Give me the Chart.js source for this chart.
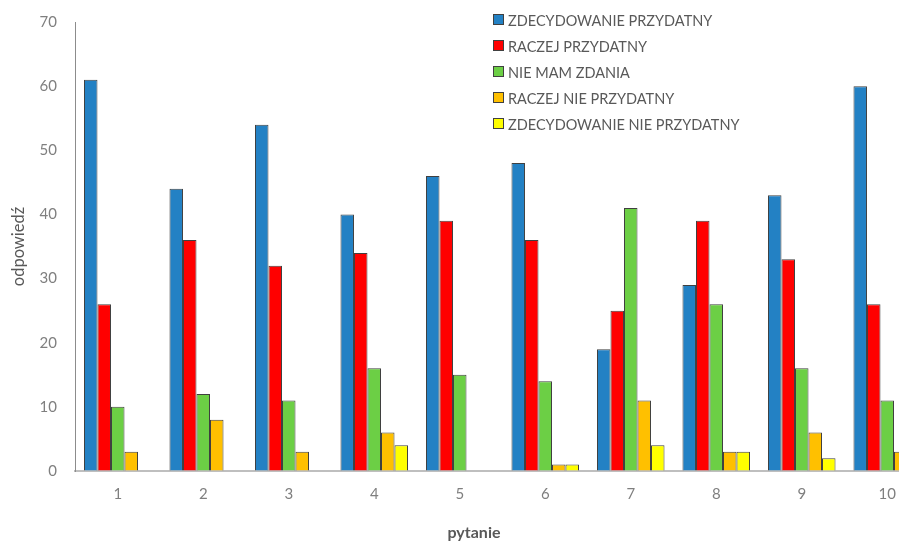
<!DOCTYPE html>
<html>
  <head>
    <meta charset="utf-8">
    <title>pytanie / odpowiedz</title>
    <script src="https://cdn.jsdelivr.net/npm/chart.js@4.4.0/dist/chart.umd.min.js"></script>
    <style>
      body{
        margin: 0;
        overflow: hidden;
        background: #ffffff;
      }
      #wrap{
        width: 940px;
        height: 543px;
      }
    </style>
  </head>
  <body>

<div id="wrap">
  <canvas id="myChart" width="940" height="543"></canvas>
</div>

<script>
  // dane z wykresu
  const pytania = ['1', '2', '3', '4', '5', '6', '7', '8', '9', '10'];
  const zdecydowaniePrzydatny = [61, 44, 54, 40, 46, 48, 19, 29, 43, 60];
  const raczejPrzydatny = [26, 36, 32, 34, 39, 36, 25, 39, 33, 26];
  const nieMamZdania = [10, 12, 11, 16, 15, 14, 41, 26, 16, 11];
  const raczejNiePrzydatny = [3, 8, 3, 6, 0, 1, 11, 3, 6, 3];
  const zdecydowanieNiePrzydatny = [0, 0, 0, 4, 0, 1, 4, 3, 2, 0];
  const yTicks = [0, 10, 20, 30, 40, 50, 60, 70];

  const seriesNames = ['ZDECYDOWANIE PRZYDATNY', 'RACZEJ PRZYDATNY', 'NIE MAM ZDANIA',
                       'RACZEJ NIE PRZYDATNY', 'ZDECYDOWANIE NIE PRZYDATNY'];
  const colors = ['#2381c4', '#ff0000', '#6ccf45', '#ffc000', '#ffff00'];
  const values = [zdecydowaniePrzydatny, raczejPrzydatny, nieMamZdania,
                  raczejNiePrzydatny, zdecydowanieNiePrzydatny];

  const fontName = 'Lato, "Open Sans", sans-serif';

  // legenda w srodku wykresu + tytul osi x
  const extras = {
    id: 'extras',
    afterDraw(chart) {
      const c = chart.ctx;
      c.save();
      c.font = '14.5px ' + fontName;
      c.textBaseline = 'middle';
      seriesNames.forEach((name, i) => {
        let y = 20 + i * 26;
        c.fillStyle = colors[i];
        c.strokeStyle = '#404040';
        c.lineWidth = 1;
        c.fillRect(493.5, y - 5.5, 10, 10);
        c.strokeRect(493.5, y - 5.5, 10, 10);
        c.fillStyle = '#595959';
        c.fillText(name, 508, y + 1);
      });
      c.font = 'bold 16px ' + fontName;
      c.textAlign = 'center';
      c.fillStyle = '#595959';
      c.fillText('pytanie', 474, 533);
      c.restore();
    }
  };

  var ctx = document.getElementById('myChart').getContext('2d');
  var chart = new Chart(ctx, {
    type: 'bar',
    data: {
      labels: pytania,
      datasets: seriesNames.map((name, i) => ({
        label: name,
        data: values[i],
        backgroundColor: colors[i],
        borderColor: '#404040',
        borderWidth: 1,
        categoryPercentage: 0.79,
        barPercentage: 1
      }))
    },
    options: {
      responsive: false,
      animation: false,
      layout: { padding: { top: 22, right: 10, left: 0, bottom: 0 } },
      plugins: {
        legend: { display: false },
        tooltip: { enabled: false }
      },
      scales: {
        x: {
          grid: { display: false, drawTicks: false },
          border: { color: '#bfbfbf', width: 2 },
          ticks: { color: '#7f7f7f', font: { family: fontName, size: 15 }, padding: 14 },
          afterFit: s => { s.height = 72; }
        },
        y: {
          min: 0,
          max: 70,
          afterBuildTicks: s => { s.ticks = yTicks.map(v => ({ value: v })); },
          // niewidoczne kreski tylko po to, zeby odsunac etykiety od osi
          grid: { drawOnChartArea: false, drawTicks: true, tickLength: 15, tickColor: 'rgba(0,0,0,0)' },
          border: { color: '#8c8c8c', width: 1 },
          ticks: { color: '#7f7f7f', font: { family: fontName, size: 15 }, padding: 3 },
          title: {
            display: true,
            text: 'odpowiedź',
            color: '#595959',
            font: { family: fontName, size: 16.5 },
            padding: { top: 9, bottom: 0 }
          },
          afterFit: s => { s.width = 75; }
        }
      }
    },
    plugins: [extras]
  });
</script>

  </body>
</html>
